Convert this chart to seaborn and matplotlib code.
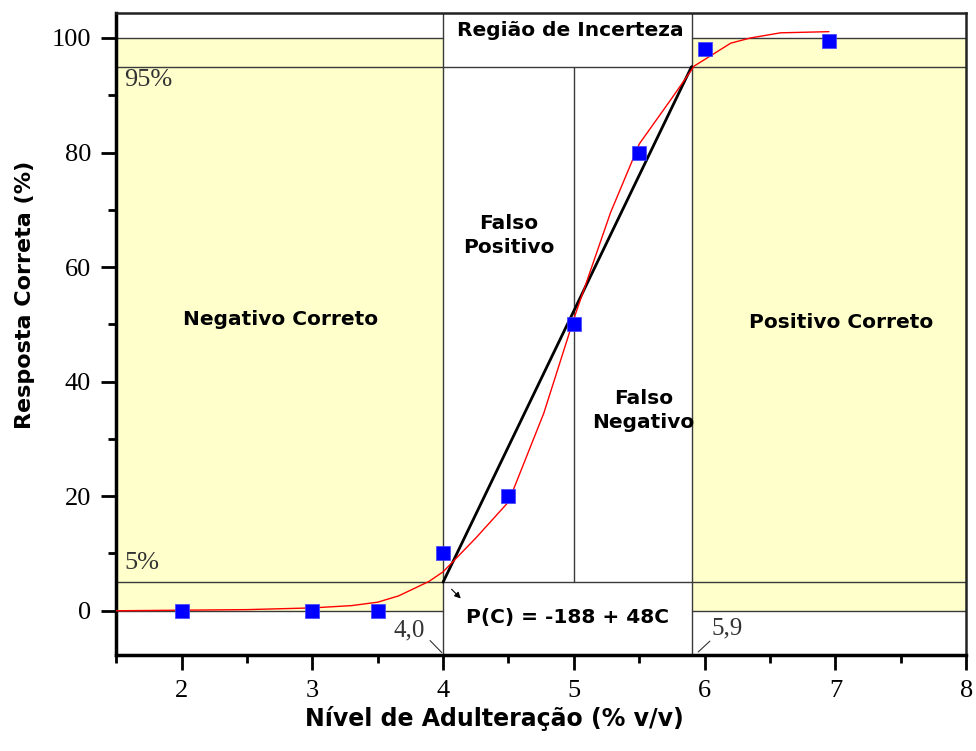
import matplotlib
matplotlib.use('Agg')
import matplotlib.pyplot as plt
import seaborn as sns
import pandas as pd
from matplotlib.ticker import MultipleLocator

# measured points
conc = [2.0, 3.0, 3.5, 4.0, 4.5, 5.0, 5.5, 6.0, 6.95]
resp = [0.0, 0.0, 0.0, 10.0, 20.0, 50.0, 80.0, 98.0, 99.5]

# fitted (red) curve
fit_x = [1.5, 2.0, 2.5, 3.0, 3.3, 3.5, 3.66, 3.89, 4.0, 4.25, 4.5, 4.77,
         5.0, 5.28, 5.5, 5.74, 5.92, 6.2, 6.35, 6.58, 6.95]
fit_y = [0.0, 0.1, 0.2, 0.5, 0.9, 1.5, 2.6, 5.1, 6.8, 12.7, 19.0, 34.5,
         51.0, 69.5, 81.5, 89.2, 95.1, 99.1, 100.0, 100.9, 101.1]

# linear model P(C) = -188 + 48C between the 5% and 95% limits
lin_x = [4.0, 5.9]
lin_y = [5.0, 95.0]

lim_low, lim_high = 4.0, 5.9
yellow = '#FFFFCC'
grid_c = '#3a3a3a'

sns.set_style('ticks')
plt.rcParams.update({'text.color': 'black', 'axes.labelcolor': 'black',
                     'xtick.color': 'black', 'ytick.color': 'black'})
fig = plt.figure(figsize=(9.76, 7.51), dpi=100)
ax = fig.add_axes([0.119, 0.128, 0.871, 0.855])
ax.set_xlim(1.5, 8)
ax.set_ylim(-7.7, 104.4)

# shaded regions
ax.fill_between([1.5, lim_low], 0, 100, color=yellow, zorder=0, lw=0)
ax.fill_between([lim_high, 8], 0, 100, color=yellow, zorder=0, lw=0)

# guide lines
for x0, x1 in [(1.5, lim_low), (lim_high, 8)]:
    ax.plot([x0, x1], [100, 100], color=grid_c, lw=1, zorder=1)
    ax.plot([x0, x1], [0, 0], color=grid_c, lw=1, zorder=1)
ax.axhline(95, color=grid_c, lw=1, zorder=1)
ax.axhline(5, color=grid_c, lw=1, zorder=1)
ax.axvline(lim_low, color=grid_c, lw=1, zorder=1)
ax.axvline(lim_high, color=grid_c, lw=1, zorder=1)
ax.plot([5, 5], [5, 95], color=grid_c, lw=1, zorder=1)

sns.lineplot(x=lin_x, y=lin_y, ax=ax, color='black', lw=2, zorder=3)
sns.lineplot(x=fit_x, y=fit_y, ax=ax, color='red', lw=1, zorder=4, sort=False)
df = pd.DataFrame({'conc': conc, 'resp': resp})
sns.scatterplot(data=df, x='conc', y='resp', ax=ax, marker='s', s=110,
                color='#0000FF', edgecolor='#4040FF', linewidth=0.5, zorder=5)

# text labels
bold = dict(fontsize=14.5, fontweight='bold', family='DejaVu Sans', ha='center', va='center')
ax.text(4.97, 101.3, 'Região de Incerteza', **bold)
ax.text(4.5, 65.5, 'Falso\nPositivo', linespacing=1.35, **bold)
ax.text(5.53, 35.0, 'Falso\nNegativo', linespacing=1.35, **bold)
ax.text(2.76, 50.8, 'Negativo Correto', **bold)
ax.text(7.04, 50.3, 'Positivo Correto', **bold)
ax.text(4.95, -1.1, 'P(C) = -188 + 48C', **bold)

serif = dict(family='Liberation Serif', color='#333333')
ax.text(1.56, 92.7, '95%', fontsize=19, va='center', ha='left', **serif)
ax.text(1.56, 8.3, '5%', fontsize=19, va='center', ha='left', **serif)
ax.text(3.74, -3.4, '4,0', fontsize=18, va='center', ha='center', **serif)
ax.text(6.17, -3.1, '5,9', fontsize=18, va='center', ha='center', **serif)
ax.plot([3.9, 3.99], [-5.2, -7.3], color='#333333', lw=0.8)
ax.plot([5.95, 6.04], [-7.2, -5.3], color='#333333', lw=0.8)
ax.annotate('', xy=(4.15, 1.8), xytext=(4.05, 4.1),
            arrowprops=dict(arrowstyle='-|>', color='black', lw=0.8, mutation_scale=9))

# axes styling
ax.set_xticks([2, 3, 4, 5, 6, 7, 8])
ax.set_yticks([0, 20, 40, 60, 80, 100])
ax.xaxis.set_minor_locator(MultipleLocator(0.5))
ax.yaxis.set_minor_locator(MultipleLocator(10))
ax.tick_params(which='major', length=11, width=2, direction='out')
ax.tick_params(which='minor', length=6, width=2, direction='out')
ax.tick_params(axis='both', labelsize=19, pad=7)
for lab in ax.get_xticklabels() + ax.get_yticklabels():
    lab.set_family('Liberation Serif')

for side in ['left', 'bottom']:
    ax.spines[side].set_linewidth(2.5)
    ax.spines[side].set_color('black')
for side in ['top', 'right']:
    ax.spines[side].set_linewidth(1.8)
    ax.spines[side].set_color('#222222')
    ax.spines[side].set_visible(True)

ax.set_xlabel('Nível de Adulteração (% v/v)', fontsize=17, fontweight='bold',
              family='DejaVu Sans')
ax.set_ylabel('Resposta Correta (%)', fontsize=16, fontweight='bold',
              family='DejaVu Sans')
ax.xaxis.set_label_coords(0.445, -0.08)
ax.yaxis.set_label_coords(-0.095, 0.56)

fig.savefig('out.png', dpi=100)
